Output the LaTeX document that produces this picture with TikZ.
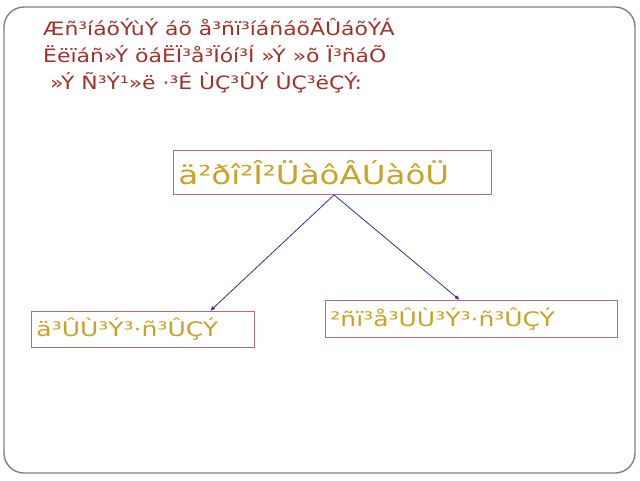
\documentclass[tikz,border=0pt]{standalone}
\usepackage{fontspec}
\setmainfont[FakeStretch=1.25]{DejaVu Sans}
\newfontfamily\titlefont[FakeStretch=1.19]{DejaVu Sans}
\usetikzlibrary{arrows.meta,calc}
\definecolor{titlered}{HTML}{A0302A}
\definecolor{boxline}{HTML}{B07070}
\definecolor{boxtext}{HTML}{C9A227}
\definecolor{arrowblue}{HTML}{2E2E96}
\definecolor{frame}{HTML}{808080}
\tikzset{
  conbox/.style={draw=boxline, line width=0.9pt, anchor=north west, inner xsep=5pt, inner ysep=0pt, align=left, text=boxtext},
  conn/.style={draw=arrowblue, line width=0.8pt, -{Latex[length=5pt,width=4pt]}}
}
\begin{document}
\begin{tikzpicture}[x=1pt,y=-1pt]
\useasboundingbox (0,0) rectangle (640,480);
\draw[frame, line width=1.4pt, rounded corners=20pt] (4,7) rectangle (635,473);
\node[anchor=base west, inner sep=0pt, align=left, text=titlered, font=\titlefont\fontsize{18.4}{27}\selectfont] (title) at (43,89.7)
  {Æñ³íáõÝùÝ áõ å³ñï³íáñáõÃÛáõÝÁ\\Ëëïáñ»Ý öáËÏ³å³Ïóí³Í »Ý »õ Ï³ñáÕ\\\ »Ý Ñ³Ý¹»ë ·³É ÙÇ³ÛÝ ÙÇ³ëÇÝ:};
\node[conbox, minimum height=44pt, text width=308pt, font=\fontsize{26}{30}\selectfont] (top) at (173,150) {ä²ðî²Î²ÜàôÂÚàôÜ};
\node[conbox, minimum height=36pt, text width=213pt, font=\fontsize{20}{24}\selectfont] (lb) at (31,311) {ä³ÛÙ³Ý³·ñ³ÛÇÝ};
\node[conbox, minimum height=37pt, text width=282pt, font=\fontsize{20}{24}\selectfont] (rb) at (325,300) {²ñï³å³ÛÙ³Ý³·ñ³ÛÇÝ};
\coordinate (s) at ($(top.south west)!0.505!(top.south east)$);
\draw[conn] (s) -- ($(lb.north west)!0.80!(lb.north east)$);
\draw[conn] (s) -- ($(rb.north west)!0.46!(rb.north east)$);
\end{tikzpicture}
\end{document}
